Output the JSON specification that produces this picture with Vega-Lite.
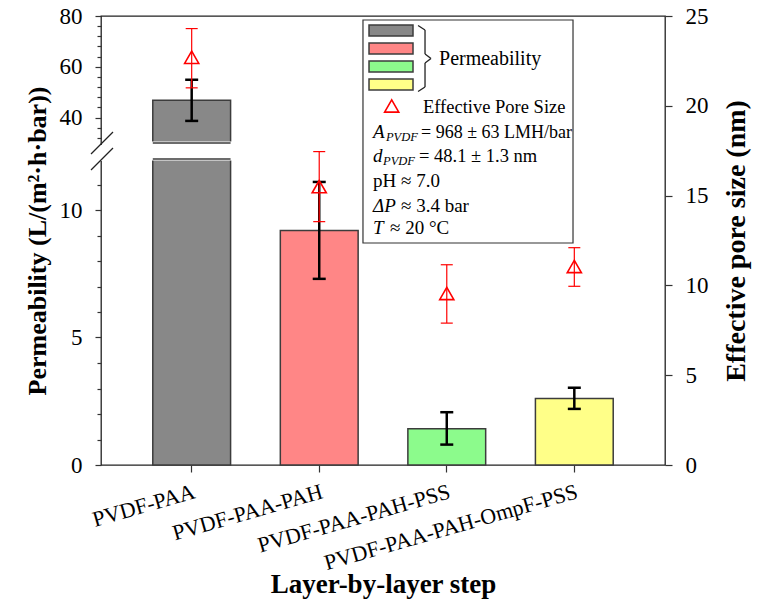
{
  "$schema": "https://vega.github.io/schema/vega-lite/v6.json",
  "width": 564,
  "height": 449,
  "autosize": "none",
  "padding": {"left": 101, "top": 16, "right": 97, "bottom": 143},
  "background": "white",
  "config": {
    "font": "Liberation Serif",
    "view": {"stroke": "#222222", "strokeWidth": 1.3},
    "axis": {"grid": false, "domain": false, "labelFont": "Liberation Serif", "titleFont": "Liberation Serif", "labelColor": "#000000", "titleColor": "#000000", "tickColor": "#333333", "tickWidth": 1.2, "labelOverlap": false, "labelLimit": 0}
  },
  "datasets": {
    "steps": [
      {"step": "PVDF-PAA", "perm": 46.8, "perm_lo": 38.7, "perm_hi": 54.9, "pore": 22.7, "pore_lo": 21.0, "pore_hi": 24.3},
      {"step": "PVDF-PAA-PAH", "perm": 9.2, "perm_lo": 7.3, "perm_hi": 11.1, "pore": 15.5, "pore_lo": 13.55, "pore_hi": 17.45},
      {"step": "PVDF-PAA-PAH-PSS", "perm": 1.42, "perm_lo": 0.8, "perm_hi": 2.07, "pore": 9.55, "pore_lo": 7.9, "pore_hi": 11.15},
      {"step": "PVDF-PAA-PAH-OmpF-PSS", "perm": 2.61, "perm_lo": 2.2, "perm_hi": 3.03, "pore": 11.05, "pore_lo": 9.95, "pore_hi": 12.1}
    ]
  },
  "layer": [
    {
      "data": {"name": "steps"},
      "encoding": {
        "x": {"field": "step", "type": "nominal", "sort": null,
          "scale": {"paddingInner": 0.39, "paddingOuter": 0.406},
          "axis": {"title": "Layer-by-layer step", "titleFontSize": 27, "titleFontWeight": "bold", "titleBaseline": "alphabetic", "titleY": 127,
            "labelAngle": -16, "labelAlign": "right", "labelBaseline": "top", "labelFontSize": 22, "labelPadding": 9, "tickSize": 7}}
      },
      "layer": [
        {
          "mark": {"type": "bar", "stroke": "#3c3c3c", "strokeWidth": 1.5, "opacity": 1},
          "encoding": {
            "y": {"field": "perm", "type": "quantitative",
              "scale": {"domain": [0, 12, 30, 80], "range": [449, 143, 127, 0], "nice": false, "zero": false},
              "axis": {"title": "Permeability (L/(m²·h·bar))", "titleFontSize": 26, "titleFontWeight": "bold", "titlePadding": 9,
                "values": [0, 5, 10, 40, 60, 80], "tickSize": 6, "labelFontSize": 23, "labelPadding": 13}},
            "fill": {"field": "step", "type": "nominal", "sort": null,
              "scale": {"domain": ["PVDF-PAA", "PVDF-PAA-PAH", "PVDF-PAA-PAH-PSS", "PVDF-PAA-PAH-OmpF-PSS"], "range": ["#888888", "#ff8686", "#8cfb8c", "#ffff88"]},
              "legend": null}
          }
        },
        {
          "data": {"values": [{}]},
          "mark": {"type": "bar", "fill": "white", "stroke": "white", "strokeWidth": 3, "opacity": 1},
          "encoding": {"x": {"datum": "PVDF-PAA", "type": "nominal"}, "y": {"datum": 12, "type": "quantitative"}, "y2": {"datum": 30}}
        },
        {
          "data": {"values": [{}]},
          "mark": {"type": "bar", "fillOpacity": 0, "stroke": "#3c3c3c", "strokeWidth": 1.5},
          "encoding": {"x": {"datum": "PVDF-PAA", "type": "nominal"}, "y": {"datum": 12, "type": "quantitative"}, "y2": {"datum": 12}}
        },
        {
          "data": {"values": [{}]},
          "mark": {"type": "bar", "fillOpacity": 0, "stroke": "#3c3c3c", "strokeWidth": 1.5},
          "encoding": {"x": {"datum": "PVDF-PAA", "type": "nominal"}, "y": {"datum": 30, "type": "quantitative"}, "y2": {"datum": 30}}
        },
        {
          "mark": {"type": "rule", "color": "#000000", "strokeWidth": 2.5, "opacity": 1},
          "encoding": {"y": {"field": "perm_lo", "type": "quantitative"}, "y2": {"field": "perm_hi"}}
        },
        {
          "mark": {"type": "tick", "color": "#000000", "thickness": 2.5, "size": 13, "opacity": 1},
          "encoding": {"y": {"field": "perm_lo", "type": "quantitative"}}
        },
        {
          "mark": {"type": "tick", "color": "#000000", "thickness": 2.5, "size": 13, "opacity": 1},
          "encoding": {"y": {"field": "perm_hi", "type": "quantitative"}}
        }
      ]
    },
    {
      "data": {"name": "steps"},
      "mark": {"type": "point", "opacity": 0},
      "encoding": {
        "x": {"field": "step", "type": "nominal", "sort": null, "scale": {"paddingInner": 0.39, "paddingOuter": 0.406}, "axis": null},
        "y": {"field": "perm", "type": "quantitative",
          "scale": {"domain": [0, 12, 30, 80], "range": [449, 143, 127, 0], "nice": false, "zero": false},
          "axis": {"orient": "left", "title": null, "labels": false, "tickSize": 4,
            "values": [1, 2, 3, 4, 6, 7, 8, 9, 11, 32, 36, 44, 48, 52, 56, 64, 68, 72, 76]}}
      }
    },
    {
      "data": {"name": "steps"},
      "encoding": {
        "x": {"field": "step", "type": "nominal", "sort": null, "scale": {"paddingInner": 0.39, "paddingOuter": 0.406}, "axis": null}
      },
      "layer": [
        {
          "mark": {"type": "rule", "color": "#ff0000", "strokeWidth": 1.2, "opacity": 1},
          "encoding": {
            "y": {"field": "pore_lo", "type": "quantitative", "scale": {"domain": [0, 25], "nice": false, "zero": false},
              "axis": {"orient": "right", "title": "Effective pore size (nm)", "values": [0, 5, 10, 15, 20, 25], "tickSize": 7,
                "labelFontSize": 23, "labelPadding": 13, "titleFontSize": 28, "titleFontWeight": "bold", "titleAngle": 270, "titleBaseline": "top", "titlePadding": 14}},
            "y2": {"field": "pore_hi"}
          }
        },
        {
          "mark": {"type": "tick", "color": "#ff0000", "thickness": 1.2, "size": 12, "opacity": 1},
          "encoding": {"y": {"field": "pore_lo", "type": "quantitative"}}
        },
        {
          "mark": {"type": "tick", "color": "#ff0000", "thickness": 1.2, "size": 12, "opacity": 1},
          "encoding": {"y": {"field": "pore_hi", "type": "quantitative"}}
        },
        {
          "mark": {"type": "point", "shape": "triangle-up", "filled": false, "stroke": "#ff0000", "strokeWidth": 1.6, "size": 200, "opacity": 1},
          "encoding": {"y": {"field": "pore", "type": "quantitative"}}
        }
      ]
    },
    {
      "data": {"values": [{}]},
      "layer": [
        {
          "mark": {"type": "rect", "fill": "white", "stroke": "#333333", "strokeWidth": 1.2},
          "encoding": {
            "x": {"datum": 46.45, "type": "quantitative", "scale": {"domain": [0, 100]}, "axis": null}, "x2": {"datum": 83.69},
            "y": {"datum": 49.44, "type": "quantitative", "scale": {"domain": [0, 100]}, "axis": null}, "y2": {"datum": 99.11}
          }
        },
        {
          "mark": {"type": "rect", "fill": "#888888", "stroke": "#3c3c3c", "strokeWidth": 1.5},
          "encoding": {
            "x": {"datum": 47.52, "type": "quantitative", "scale": {"domain": [0, 100]}, "axis": null}, "x2": {"datum": 55.32},
            "y": {"datum": 95.55, "type": "quantitative", "scale": {"domain": [0, 100]}, "axis": null}, "y2": {"datum": 98.0}
          }
        },
        {
          "mark": {"type": "rect", "fill": "#ff8686", "stroke": "#3c3c3c", "strokeWidth": 1.5},
          "encoding": {
            "x": {"datum": 47.52, "type": "quantitative", "scale": {"domain": [0, 100]}, "axis": null}, "x2": {"datum": 55.32},
            "y": {"datum": 91.54, "type": "quantitative", "scale": {"domain": [0, 100]}, "axis": null}, "y2": {"datum": 93.99}
          }
        },
        {
          "mark": {"type": "rect", "fill": "#8cfb8c", "stroke": "#3c3c3c", "strokeWidth": 1.5},
          "encoding": {
            "x": {"datum": 47.52, "type": "quantitative", "scale": {"domain": [0, 100]}, "axis": null}, "x2": {"datum": 55.32},
            "y": {"datum": 87.53, "type": "quantitative", "scale": {"domain": [0, 100]}, "axis": null}, "y2": {"datum": 89.98}
          }
        },
        {
          "mark": {"type": "rect", "fill": "#ffff88", "stroke": "#3c3c3c", "strokeWidth": 1.5},
          "encoding": {
            "x": {"datum": 47.52, "type": "quantitative", "scale": {"domain": [0, 100]}, "axis": null}, "x2": {"datum": 55.32},
            "y": {"datum": 83.52, "type": "quantitative", "scale": {"domain": [0, 100]}, "axis": null}, "y2": {"datum": 85.97}
          }
        },
        {
          "mark": {"type": "rule", "color": "#222222", "strokeWidth": 1.3},
          "encoding": {
            "x": {"datum": 56.21, "type": "quantitative", "scale": {"domain": [0, 100]}, "axis": null}, "x2": {"datum": 57.45},
            "y": {"datum": 97.88, "type": "quantitative", "scale": {"domain": [0, 100]}, "axis": null}, "y2": {"datum": 96.88}
          }
        },
        {
          "mark": {"type": "rule", "color": "#222222", "strokeWidth": 1.3},
          "encoding": {
            "x": {"datum": 57.45, "type": "quantitative", "scale": {"domain": [0, 100]}, "axis": null}, "x2": {"datum": 57.45},
            "y": {"datum": 96.88, "type": "quantitative", "scale": {"domain": [0, 100]}, "axis": null}, "y2": {"datum": 91.54}
          }
        },
        {
          "mark": {"type": "rule", "color": "#222222", "strokeWidth": 1.3},
          "encoding": {
            "x": {"datum": 57.45, "type": "quantitative", "scale": {"domain": [0, 100]}, "axis": null}, "x2": {"datum": 58.51},
            "y": {"datum": 91.54, "type": "quantitative", "scale": {"domain": [0, 100]}, "axis": null}, "y2": {"datum": 90.53}
          }
        },
        {
          "mark": {"type": "rule", "color": "#222222", "strokeWidth": 1.3},
          "encoding": {
            "x": {"datum": 58.51, "type": "quantitative", "scale": {"domain": [0, 100]}, "axis": null}, "x2": {"datum": 57.45},
            "y": {"datum": 90.53, "type": "quantitative", "scale": {"domain": [0, 100]}, "axis": null}, "y2": {"datum": 89.53}
          }
        },
        {
          "mark": {"type": "rule", "color": "#222222", "strokeWidth": 1.3},
          "encoding": {
            "x": {"datum": 57.45, "type": "quantitative", "scale": {"domain": [0, 100]}, "axis": null}, "x2": {"datum": 57.45},
            "y": {"datum": 89.53, "type": "quantitative", "scale": {"domain": [0, 100]}, "axis": null}, "y2": {"datum": 84.19}
          }
        },
        {
          "mark": {"type": "rule", "color": "#222222", "strokeWidth": 1.3},
          "encoding": {
            "x": {"datum": 57.45, "type": "quantitative", "scale": {"domain": [0, 100]}, "axis": null}, "x2": {"datum": 56.21},
            "y": {"datum": 84.19, "type": "quantitative", "scale": {"domain": [0, 100]}, "axis": null}, "y2": {"datum": 83.19}
          }
        },
        {
          "mark": {"type": "text", "text": "Permeability", "align": "left", "baseline": "alphabetic", "fontSize": 20, "color": "#000000"},
          "encoding": {
            "x": {"datum": 59.93, "type": "quantitative", "scale": {"domain": [0, 100]}, "axis": null},
            "y": {"datum": 89.09, "type": "quantitative", "scale": {"domain": [0, 100]}, "axis": null}
          }
        },
        {
          "mark": {"type": "point", "shape": "triangle-up", "filled": false, "stroke": "#ff0000", "strokeWidth": 1.6, "size": 200, "opacity": 1},
          "encoding": {
            "x": {"datum": 51.54, "type": "quantitative", "scale": {"domain": [0, 100]}, "axis": null},
            "y": {"datum": 79.96, "type": "quantitative", "scale": {"domain": [0, 100]}, "axis": null}
          }
        },
        {
          "mark": {"type": "text", "text": "Effective Pore Size", "align": "left", "baseline": "alphabetic", "fontSize": 18.5, "color": "#000000"},
          "encoding": {
            "x": {"datum": 57.09, "type": "quantitative", "scale": {"domain": [0, 100]}, "axis": null},
            "y": {"datum": 78.4, "type": "quantitative", "scale": {"domain": [0, 100]}, "axis": null}
          }
        },
        {
          "mark": {"type": "text", "text": "A", "align": "left", "baseline": "alphabetic", "fontSize": 19, "fontStyle": "italic", "color": "#000000"},
          "encoding": {
            "x": {"datum": 48.23, "type": "quantitative", "scale": {"domain": [0, 100]}, "axis": null},
            "y": {"datum": 72.83, "type": "quantitative", "scale": {"domain": [0, 100]}, "axis": null}
          }
        },
        {
          "mark": {"type": "text", "text": "PVDF", "align": "left", "baseline": "alphabetic", "fontSize": 12.5, "fontStyle": "italic", "color": "#000000"},
          "encoding": {
            "x": {"datum": 50.53, "type": "quantitative", "scale": {"domain": [0, 100]}, "axis": null},
            "y": {"datum": 72.05, "type": "quantitative", "scale": {"domain": [0, 100]}, "axis": null}
          }
        },
        {
          "mark": {"type": "text", "text": "= 968 ± 63 LMH/bar", "align": "left", "baseline": "alphabetic", "fontSize": 18, "color": "#000000"},
          "encoding": {
            "x": {"datum": 56.74, "type": "quantitative", "scale": {"domain": [0, 100]}, "axis": null},
            "y": {"datum": 72.83, "type": "quantitative", "scale": {"domain": [0, 100]}, "axis": null}
          }
        },
        {
          "mark": {"type": "text", "text": "d", "align": "left", "baseline": "alphabetic", "fontSize": 19, "fontStyle": "italic", "color": "#000000"},
          "encoding": {
            "x": {"datum": 48.23, "type": "quantitative", "scale": {"domain": [0, 100]}, "axis": null},
            "y": {"datum": 67.55, "type": "quantitative", "scale": {"domain": [0, 100]}, "axis": null}
          }
        },
        {
          "mark": {"type": "text", "text": "PVDF", "align": "left", "baseline": "alphabetic", "fontSize": 12.5, "fontStyle": "italic", "color": "#000000"},
          "encoding": {
            "x": {"datum": 50.0, "type": "quantitative", "scale": {"domain": [0, 100]}, "axis": null},
            "y": {"datum": 66.82, "type": "quantitative", "scale": {"domain": [0, 100]}, "axis": null}
          }
        },
        {
          "mark": {"type": "text", "text": "= 48.1 ± 1.3 nm", "align": "left", "baseline": "alphabetic", "fontSize": 18.5, "color": "#000000"},
          "encoding": {
            "x": {"datum": 56.38, "type": "quantitative", "scale": {"domain": [0, 100]}, "axis": null},
            "y": {"datum": 67.55, "type": "quantitative", "scale": {"domain": [0, 100]}, "axis": null}
          }
        },
        {
          "mark": {"type": "text", "text": "pH ≈ 7.0", "align": "left", "baseline": "alphabetic", "fontSize": 19, "color": "#000000"},
          "encoding": {
            "x": {"datum": 48.23, "type": "quantitative", "scale": {"domain": [0, 100]}, "axis": null},
            "y": {"datum": 61.98, "type": "quantitative", "scale": {"domain": [0, 100]}, "axis": null}
          }
        },
        {
          "mark": {"type": "text", "text": "ΔP", "align": "left", "baseline": "alphabetic", "fontSize": 19, "fontStyle": "italic", "color": "#000000"},
          "encoding": {
            "x": {"datum": 48.23, "type": "quantitative", "scale": {"domain": [0, 100]}, "axis": null},
            "y": {"datum": 56.41, "type": "quantitative", "scale": {"domain": [0, 100]}, "axis": null}
          }
        },
        {
          "mark": {"type": "text", "text": "≈ 3.4 bar", "align": "left", "baseline": "alphabetic", "fontSize": 19, "color": "#000000"},
          "encoding": {
            "x": {"datum": 53.19, "type": "quantitative", "scale": {"domain": [0, 100]}, "axis": null},
            "y": {"datum": 56.41, "type": "quantitative", "scale": {"domain": [0, 100]}, "axis": null}
          }
        },
        {
          "mark": {"type": "text", "text": "T", "align": "left", "baseline": "alphabetic", "fontSize": 19, "fontStyle": "italic", "color": "#000000"},
          "encoding": {
            "x": {"datum": 48.23, "type": "quantitative", "scale": {"domain": [0, 100]}, "axis": null},
            "y": {"datum": 51.34, "type": "quantitative", "scale": {"domain": [0, 100]}, "axis": null}
          }
        },
        {
          "mark": {"type": "text", "text": "≈ 20 °C", "align": "left", "baseline": "alphabetic", "fontSize": 19, "color": "#000000"},
          "encoding": {
            "x": {"datum": 51.24, "type": "quantitative", "scale": {"domain": [0, 100]}, "axis": null},
            "y": {"datum": 51.34, "type": "quantitative", "scale": {"domain": [0, 100]}, "axis": null}
          }
        },
        {
          "mark": {"type": "rule", "color": "white", "strokeWidth": 4},
          "encoding": {
            "x": {"datum": 0, "type": "quantitative", "scale": {"domain": [0, 100]}, "axis": null}, "x2": {"datum": 0},
            "y": {"datum": 67.71, "type": "quantitative", "scale": {"domain": [0, 100]}, "axis": null}, "y2": {"datum": 71.27}
          }
        },
        {
          "mark": {"type": "rule", "color": "#222222", "strokeWidth": 1.2},
          "encoding": {
            "x": {"datum": -1.77, "type": "quantitative", "scale": {"domain": [0, 100]}, "axis": null}, "x2": {"datum": 2.13},
            "y": {"datum": 69.27, "type": "quantitative", "scale": {"domain": [0, 100]}, "axis": null}, "y2": {"datum": 74.16}
          }
        },
        {
          "mark": {"type": "rule", "color": "#222222", "strokeWidth": 1.2},
          "encoding": {
            "x": {"datum": -1.77, "type": "quantitative", "scale": {"domain": [0, 100]}, "axis": null}, "x2": {"datum": 2.13},
            "y": {"datum": 65.7, "type": "quantitative", "scale": {"domain": [0, 100]}, "axis": null}, "y2": {"datum": 70.6}
          }
        }
      ]
    }
  ],
  "resolve": {"scale": {"x": "independent", "y": "independent"}, "axis": {"x": "independent", "y": "independent"}}
}
